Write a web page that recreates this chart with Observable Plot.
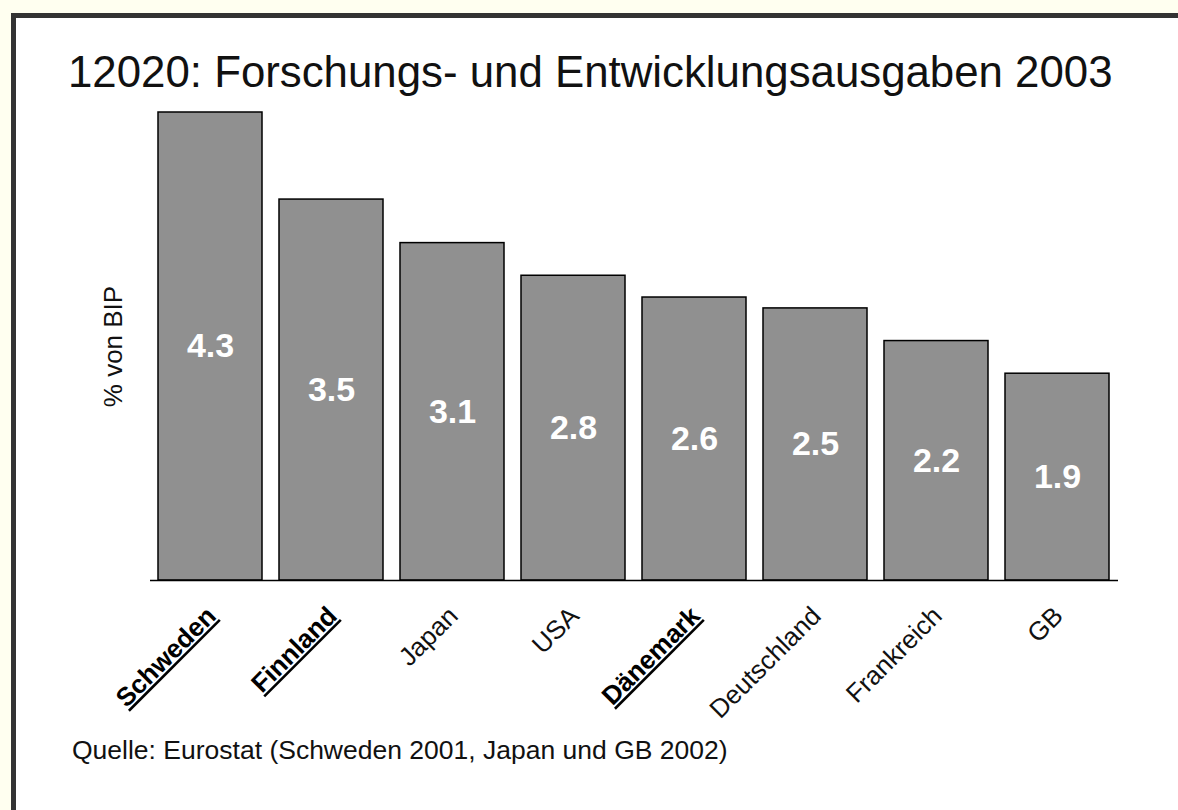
<!DOCTYPE html>
<html><head><meta charset="utf-8">
<script src="https://cdn.jsdelivr.net/npm/d3@7"></script>
<script src="https://cdn.jsdelivr.net/npm/@observablehq/plot@0.6"></script>
<style>
html,body{margin:0;padding:0;width:1178px;height:810px;overflow:hidden;background:#fffff0;font-family:"Liberation Sans",Arial,sans-serif;}
#frame{position:absolute;left:11px;top:13px;width:1400px;height:1000px;background:#fff;border-left:5px solid #333;border-top:5px solid #333;}
#title{position:absolute;left:68px;top:50px;font-size:43.8px;line-height:1;color:#111;white-space:nowrap;}
#chart{position:absolute;left:0;top:100px;}
#caption{position:absolute;left:72px;top:737px;font-size:26.5px;line-height:1;color:#111;white-space:nowrap;}
</style>
</head><body>
<div id="frame"></div>
<div id="title">12020: Forschungs- und Entwicklungsausgaben 2003</div>
<div id="chart"></div>
<div id="caption">Quelle: Eurostat (Schweden 2001, Japan und GB 2002)</div>
<script>
const countries = ["Schweden","Finnland","Japan","USA","Dänemark","Deutschland","Frankreich","GB"];
const values = [4.3,3.5,3.1,2.8,2.6,2.5,2.2,1.9];
const highlighted = ["Schweden","Finnland","Dänemark"];
const yLabel = "% von BIP";

const data = countries.map((c,i)=>({country:c, value:values[i]}));
const boldData = data.filter(d=>highlighted.includes(d.country));
const normalData = data.filter(d=>!highlighted.includes(d.country));

const chart = Plot.plot({
  width:1178, height:630,
  marginTop:12, marginBottom:150, marginLeft:150, marginRight:60,
  style:{background:"transparent", fontFamily:"'Liberation Sans', Arial, sans-serif", color:"#111", overflow:"visible"},
  x:{domain:countries, paddingInner:0.14, paddingOuter:0.07, axis:null},
  y:{domain:[0,4.3], axis:null},
  marks:[
    Plot.barY(data,{x:"country", y:"value", fill:"#909090", stroke:"#000", strokeWidth:1.5}),
    Plot.ruleY([0],{stroke:"#000", strokeWidth:1.5}),
    Plot.text(data,{x:"country", y:d=>d.value/2, text:d=>d.value.toFixed(1), fill:"#fff", fontWeight:"bold", fontSize:34}),
    Plot.text(normalData,{x:"country", frameAnchor:"bottom", text:"country", rotate:-45, textAnchor:"end", dx:7, dy:37, fontSize:26, fill:"#111"}),
    Plot.text(boldData,{x:"country", frameAnchor:"bottom", text:"country", rotate:-45, textAnchor:"end", dx:7, dy:37, fontSize:26, fontWeight:"bold", fill:"#000"}),
    Plot.text([yLabel],{frameAnchor:"left", text:d=>d, rotate:-90, textAnchor:"middle", dx:-37, fontSize:26, fill:"#111"})
  ]
});
d3.select(chart).selectAll("text")
  .filter(function(){ return highlighted.includes(this.textContent); })
  .style("text-decoration","underline");
document.getElementById("chart").appendChild(chart);
</script>
</body></html>
